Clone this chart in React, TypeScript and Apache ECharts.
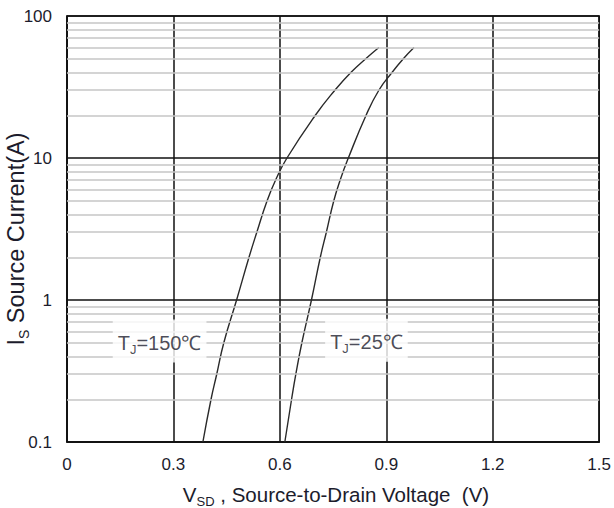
import React, { useEffect, useRef } from "react";
import * as echarts from "echarts";

// Body diode forward characteristic: source current vs. source-to-drain voltage
const currentPoints = [0.1, 0.2, 0.3, 0.5, 1, 2, 3, 5, 7, 10, 20, 30, 40, 50, 60];
const vsd150 = [0.383, 0.406, 0.422, 0.442, 0.478, 0.513, 0.535, 0.564, 0.588, 0.62, 0.7, 0.755, 0.8, 0.842, 0.879];
const vsd25 = [0.614, 0.633, 0.645, 0.662, 0.689, 0.714, 0.731, 0.752, 0.77, 0.793, 0.843, 0.879, 0.916, 0.948, 0.978];

// Minor log gridlines (2..9 within each decade)
const minorGrid = [0.2, 0.3, 0.4, 0.5, 0.6, 0.7, 0.8, 0.9, 2, 3, 4, 5, 6, 7, 8, 9, 20, 30, 40, 50, 60, 70, 80, 90];

// Curve annotations: [V, I, temperature text]
const curveLabels: [number, number, string][] = [
  [0.261, 0.514, "150℃"],
  [0.844, 0.52, "25℃"],
];

const FONT = "'Liberation Sans', Arial, sans-serif";
const TEXT = "#1c1c2c";

export default function App() {
  const ref = useRef<HTMLDivElement>(null);

  useEffect(() => {
    if (!ref.current) return;
    const chart = echarts.init(ref.current, null, { renderer: "svg" });

    const pairs = (xs: number[]) => xs.map((v, i) => [v, currentPoints[i]]);
    const curveStyle = { color: "#2a2a2a", width: 1.4 };

    chart.setOption({
      animation: false,
      textStyle: { fontFamily: FONT },
      grid: {
        left: 67,
        right: 13,
        top: 16,
        bottom: 66,
        show: true,
        borderColor: "#111",
        borderWidth: 1.5,
      },
      xAxis: {
        type: "value",
        min: 0,
        max: 1.5,
        interval: 0.3,
        axisLine: { show: true, lineStyle: { color: "#111", width: 1.5 } },
        axisTick: { show: false },
        axisLabel: {
          color: TEXT,
          fontSize: 17,
          fontFamily: FONT,
          margin: 14,
          formatter: (v: number) => (v === 0 ? "0" : v.toFixed(1)),
        },
        splitLine: { show: true, lineStyle: { color: "#111", width: 1.5 } },
      },
      yAxis: {
        type: "log",
        logBase: 10,
        min: 0.1,
        max: 100,
        axisLine: { show: true, lineStyle: { color: "#111", width: 1.5 } },
        axisTick: { show: false },
        axisLabel: {
          color: TEXT,
          fontSize: 17,
          fontFamily: FONT,
          margin: 15,
          formatter: (v: number) => String(Number(v.toPrecision(3))),
        },
        splitLine: { show: true, lineStyle: { color: "#111", width: 1.5 } },
      },
      series: [
        {
          type: "line",
          data: [],
          silent: true,
          z: 1,
          markLine: {
            silent: true,
            symbol: "none",
            label: { show: false },
            lineStyle: { color: "#c6c6c6", width: 1.5, type: "solid" },
            data: minorGrid.map((v) => ({ yAxis: v })),
          },
        },
        {
          name: "TJ=150",
          type: "line",
          data: pairs(vsd150),
          smooth: 0.5,
          showSymbol: false,
          lineStyle: curveStyle,
          z: 3,
        },
        {
          name: "TJ=25",
          type: "line",
          data: pairs(vsd25),
          smooth: 0.5,
          showSymbol: false,
          lineStyle: curveStyle,
          z: 3,
        },
        {
          type: "scatter",
          symbol: "circle",
          symbolSize: 1,
          itemStyle: { color: "rgba(0,0,0,0)" },
          z: 5,
          data: curveLabels.map(([x, y, t]) => ({ value: [x, y], name: t })),
          label: {
            show: true,
            position: "inside",
            color: TEXT,
            fontSize: 20,
            fontFamily: FONT,
            formatter: (p: any) => `{t|T}{s|J}{t|=${p.name}}`,
            backgroundColor: "#fff",
            padding: [11, 5, 10, 5],
            rich: {
              t: { fontSize: 20, color: TEXT, fontFamily: FONT, lineHeight: 22, verticalAlign: "bottom" },
              s: { fontSize: 13, color: TEXT, fontFamily: FONT, lineHeight: 22, verticalAlign: "bottom", padding: [0, 0, -3, 0] },
            },
          },
        },
      ],
      graphic: [
        {
          type: "text",
          x: 336,
          y: 493,
          style: {
            text: "{n|V}{s|SD}{n| , Source-to-Drain Voltage  (V)}",
            align: "center",
            verticalAlign: "middle",
            rich: {
              n: { fontSize: 20.5, fill: TEXT, fontFamily: FONT, lineHeight: 24, verticalAlign: "bottom" },
              s: { fontSize: 13, fill: TEXT, fontFamily: FONT, lineHeight: 24, verticalAlign: "bottom", padding: [0, 0, -3, 0] },
            },
          },
        },
        {
          type: "text",
          x: 15,
          y: 239,
          rotation: Math.PI / 2,
          style: {
            text: "{n|I}{s|S}{n| Source Current(A)}",
            align: "center",
            verticalAlign: "middle",
            rich: {
              n: { fontSize: 23.5, fill: TEXT, fontFamily: FONT, lineHeight: 26, verticalAlign: "bottom" },
              s: { fontSize: 14, fill: TEXT, fontFamily: FONT, lineHeight: 26, verticalAlign: "bottom", padding: [0, 0, -3, 0] },
            },
          },
        },
      ],
    });

    return () => chart.dispose();
  }, []);

  return <div ref={ref} style={{ width: 614, height: 508, position: "absolute", left: 0, top: 0 }} />;
}
